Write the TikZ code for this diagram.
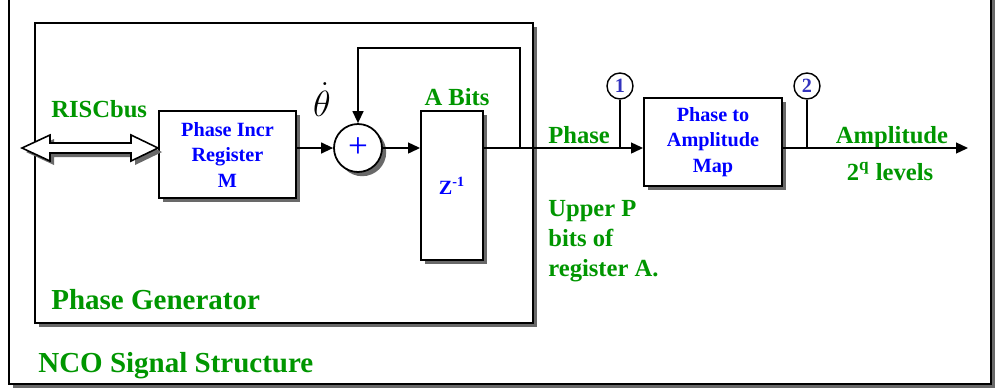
\documentclass[tikz,border=0pt]{standalone}
\usepackage{fontspec}
\setmainfont{Liberation Serif}
\usepackage{xcolor}
\usepackage{tikz}
\usetikzlibrary{arrows.meta, positioning, calc, shadows}
\definecolor{ncoGreen}{RGB}{0,150,0}
\definecolor{ncoBlue}{RGB}{0,0,255}
\definecolor{tapBlue}{RGB}{51,51,190}
\definecolor{ncoShade}{RGB}{105,105,105}

\begin{document}
\begin{tikzpicture}[x=0.2mm,y=-0.2mm,font=\bfseries,
  boxshadow/.style={drop shadow={shadow xshift=2.4pt,shadow yshift=-2.4pt,
                    fill=ncoShade,opacity=1}},
  frame/.style={draw,line width=1.1pt,fill=white,boxshadow},
  blk/.style={draw,line width=1.1pt,fill=white,boxshadow,align=center,
              inner sep=0pt,font=\fontsize{11.5}{14.5}\selectfont\bfseries,
              text=ncoBlue},
  sumnode/.style={circle,draw,line width=1pt,fill=white,boxshadow,
                  minimum size=9.6mm,inner sep=0pt},
  tapcirc/.style={circle,draw,line width=0.8pt,fill=white,minimum size=5.2mm,
                  inner sep=0pt,text=tapBlue,font=\fontsize{11.5}{12}\selectfont\bfseries},
  glbl/.style={text=ncoGreen,inner sep=0pt,font=\fontsize{14}{17}\selectfont\bfseries},
  title/.style={text=ncoGreen,inner sep=0pt,font=\fontsize{16.5}{19}\selectfont\bfseries,
                anchor=base west},
  arr/.style={-{Triangle[length=6.8pt,width=6.2pt]},line width=0.85pt},
  wire/.style={line width=0.85pt}]
\useasboundingbox (0,0) rectangle (1001,391);

% ===== frames =====
\draw[frame] (9,-4) rectangle (991,384);
\draw[frame] (35,23) rectangle (533,323);
\node[title] (nco) at (38,372) {NCO Signal Structure};
\node[title] (pgen) at (51,309) {Phase Generator};

% ===== blocks =====
\node[blk,minimum width=27.4mm,minimum height=17.4mm] (reg) at (227.5,154.5)
   {Phase Incr\\Register\\M};
\node[sumnode] (sum) at (358,148)
   {\fontsize{20}{20}\selectfont\mdseries\textcolor{ncoBlue}{+}};
\node[blk,minimum width=12.4mm,minimum height=29.8mm] (zreg) at (452,185.5)
   {Z\textsuperscript{-1}};
\node[blk,minimum width=27.6mm,minimum height=17.6mm] (pam) at (713,142)
   {Phase to\\Amplitude\\Map};

% test points
\node[tapcirc] (m1) at (620,86) {1};
\node[tapcirc] (m2) at (807,86) {2};

% ===== labels =====
\node[glbl,anchor=base west] (bus) at (51,117) {RISCbus};
\node[inner sep=0pt,anchor=base,font=\fontsize{21}{21}\selectfont] (thd) at (322,116)
   {$\dot{\theta}$};
\node[glbl,anchor=base] (abits) at (457,105) {A Bits};
\node[glbl,anchor=base west] (phs) at (548,143) {Phase};
\node[glbl,anchor=base] (amp) at (892,143) {Amplitude};
\node[glbl,anchor=base] (lev) at (890,180) {2\textsuperscript{q} levels};
\node[glbl,anchor=north west,align=left] (upp) at (548,200)
   {Upper P\\bits of\\register A.};

% ===== RISCbus double arrow =====
\coordinate (busL) at (22,148);
\coordinate (busR) at (reg.west |- busL);
\fill[ncoShade] ($(busL)+(4,4)$) -- ++(28,-13) -- ++(0,8) -- ($(busR)+(-23,-1)$)
   -- ++(0,-8) -- ($(busR)+(4,4)$) -- ++(-27,13) -- ++(0,-8) -- ($(busL)+(32,9)$)
   -- ++(0,8) -- cycle;
\draw[line width=0.9pt,fill=white,line join=miter] (busL) -- ++(28,-13) -- ++(0,8)
   -- ($(busR)+(-27,-5)$) -- ++(0,-8) -- (busR) -- ++(-27,13) -- ++(0,-8)
   -- ($(busL)+(28,5)$) -- ++(0,8) -- cycle;

% ===== signal path =====
\coordinate (tap) at (520,148);
\coordinate (fbtop) at (520,48);
\coordinate (out) at (968,148);
\draw[arr] (reg.east |- sum) -- (sum.west);
\draw[arr] (sum.east) -- (zreg.west |- sum);
\draw[arr] (zreg.east |- sum) -- (pam.west |- sum);
\draw[arr] (tap) -- (fbtop) -| (sum.north);
\draw[arr] (pam.east |- sum) -- (out);
\draw[wire] (m1.south) -- (m1 |- sum);
\draw[wire] (m2.south) -- (m2 |- sum);
\end{tikzpicture}
\end{document}
